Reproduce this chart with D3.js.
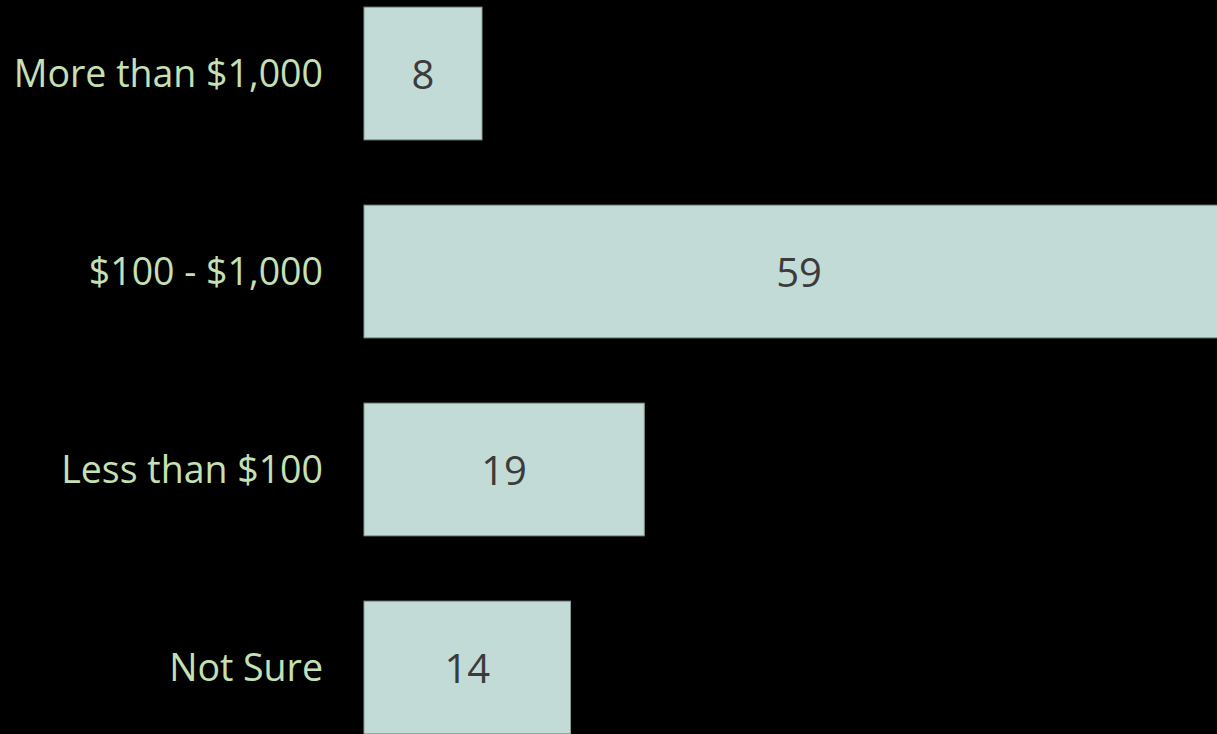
<!DOCTYPE html>
<html>
<head>
<meta charset="utf-8">
<script src="https://cdn.jsdelivr.net/npm/d3@7"></script>
<style>
  html, body { margin: 0; padding: 0; background: #000; overflow: hidden; }
  svg { display: block; }
</style>
</head>
<body>
<svg id="chart" width="1217" height="734"></svg>
<script>
// Survey answers, top to bottom
const categories = ["More than $1,000", "$100 - $1,000", "Less than $100", "Not Sure"];
const values = [8, 59, 19, 14];

const width = 1217, height = 734;
const svg = d3.select("#chart");

svg.append("rect").attr("width", width).attr("height", height).attr("fill", "#000");

// 8 units ≈ 118px, bars start at x=364; the 59 bar runs past the right edge
const x = d3.scaleLinear().domain([0, 8]).range([364, 482]);
const y = d3.scaleBand()
  .domain(categories)
  .range([-25.5, 766.5])
  .paddingInner(0.33)
  .paddingOuter(0.165);

const rows = categories.map((c, i) => ({ cat: c, value: values[i] }));

const font = "'Open Sans', sans-serif";

svg.append("g")
  .selectAll("rect")
  .data(rows)
  .join("rect")
  .attr("x", x(0))
  .attr("y", (d) => y(d.cat))
  .attr("width", (d) => x(d.value) - x(0))
  .attr("height", y.bandwidth())
  .attr("fill", "#c2dbd7")
  .attr("stroke", "#8a9a97")
  .attr("stroke-width", 1);

// category labels
svg.append("g")
  .selectAll("text")
  .data(rows)
  .join("text")
  .attr("x", 323)
  .attr("y", (d) => y(d.cat) + y.bandwidth() / 2)
  .attr("dy", "0.36em")
  .attr("text-anchor", "end")
  .attr("font-family", font)
  .attr("font-size", 37.5)
  .attr("fill", "#c5e0b4")
  .text((d) => d.cat);

// value labels, centred in the bar
svg.append("g")
  .selectAll("text")
  .data(rows)
  .join("text")
  .attr("x", (d) => (x(0) + x(d.value)) / 2)
  .attr("y", (d) => y(d.cat) + y.bandwidth() / 2)
  .attr("dy", "0.38em")
  .attr("text-anchor", "middle")
  .attr("font-family", font)
  .attr("font-size", 40)
  .attr("fill", "#3b3b3b")
  .text((d) => d.value);
</script>
</body>
</html>
